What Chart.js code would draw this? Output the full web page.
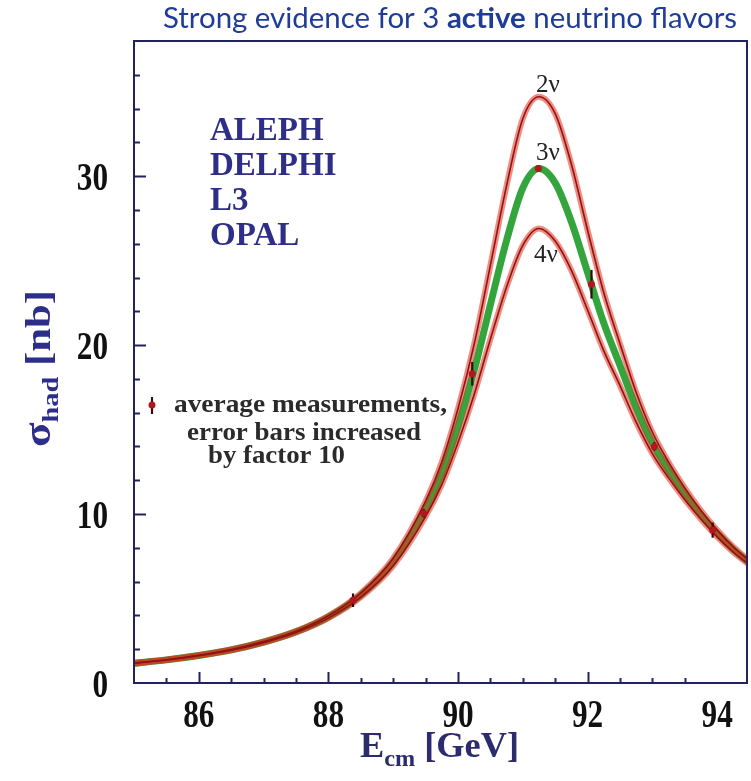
<!DOCTYPE html>
<html>
<head>
<meta charset="utf-8">
<script src="https://cdn.jsdelivr.net/npm/chart.js@4.4.1/dist/chart.umd.min.js"></script>
<style>
  html, body { margin: 0; padding: 0; background: #fff; }
  #wrap { width: 751px; height: 781px; }
</style>
</head>
<body>
<div id="wrap"><canvas id="zChart" width="751" height="781"></canvas></div>
<script>
// hadronic cross section around the Z pole, for 2, 3 and 4 light neutrino species
const energy = [85, 85.5, 86, 86.5, 87, 87.5, 88, 88.5, 89, 89.5, 89.75, 90, 90.25, 90.5, 90.75, 91, 91.25, 91.5, 91.75, 92, 92.25, 92.5, 92.75, 93, 93.25, 93.5, 93.75, 94, 94.25, 94.5];
const sigma2nu = [1.18, 1.38, 1.64, 1.98, 2.45, 3.07, 3.98, 5.32, 7.38, 10.76, 13.08, 16.23, 20.06, 24.72, 29.44, 33.4, 34.7, 33.7, 30.7, 26.8, 23.1, 20.08, 17.2, 14.84, 13.07, 11.55, 10.21, 9.05, 8.05, 7.22];
const sigma3nu = [1.17, 1.37, 1.63, 1.96, 2.42, 3.03, 3.91, 5.2, 7.16, 10.3, 12.4, 15.2, 18.5, 22.4, 26.2, 29.3, 30.45, 29.6, 27.3, 24.3, 21.3, 18.8, 16.3, 14.2, 12.6, 11.2, 9.95, 8.85, 7.9, 7.1];
const sigma4nu = [1.16, 1.36, 1.62, 1.94, 2.39, 2.99, 3.84, 5.08, 6.94, 9.85, 11.74, 14.23, 17.08, 20.35, 23.44, 25.9, 26.9, 26.16, 24.42, 22.08, 19.66, 17.6, 15.44, 13.58, 12.14, 10.85, 9.69, 8.65, 7.74, 6.98];

// averaged LEP measurements (errors already x10)
const measE = [88.38, 89.47, 90.22, 91.24, 92.06, 93.03, 93.93];
const measSigma = [4.9, 10.05, 18.3, 30.45, 23.6, 14.0, 9.05];
const measErr = [0.4, 0.25, 0.7, 0.2, 0.85, 0.25, 0.45];

const xTickLabels = [86, 88, 90, 92, 94];
const yTickLabels = [0, 10, 20, 30];
const experiments = ['ALEPH', 'DELPHI', 'L3', 'OPAL'];

const NAVY = '#22225e';
const SERIF = '"Liberation Serif", "DejaVu Serif", serif';

const pts = arr => energy.map((e, i) => ({ x: e, y: arr[i] }));

function drawText(ctx, str, x, y, font, color, align, sx) {
    sx = sx || 1;
    ctx.save();
    ctx.font = font;
    ctx.fillStyle = color;
    ctx.textBaseline = 'alphabetic';
    const w = ctx.measureText(str).width * sx;
    let left = x;
    if (align === 'center') left = x - w / 2;
    else if (align === 'right') left = x - w;
    ctx.translate(left, y);
    ctx.scale(sx, 1);
    ctx.fillText(str, 0, 0);
    ctx.restore();
}

// draw a list of [text, font, dy] runs squeezed/stretched to a given width
function drawRuns(ctx, runs, x, y, width, color) {
    ctx.save();
    ctx.fillStyle = color;
    let total = 0;
    runs.forEach(r => { ctx.font = r[1]; total += ctx.measureText(r[0]).width; });
    const sx = width / total;
    ctx.translate(x, y);
    ctx.scale(sx, 1);
    let cx = 0;
    runs.forEach(r => {
        ctx.font = r[1];
        ctx.fillText(r[0], cx, r[2] || 0);
        cx += ctx.measureText(r[0]).width;
    });
    ctx.restore();
}

const isStep = (v, step) => Math.abs(v / step - Math.round(v / step)) < 1e-6;

const zPlot = {
    id: 'zPlot',
    beforeDatasetDraw(chart, args) {
        if (args.index !== 0) return;
        const ctx = chart.ctx;
        const xs = chart.scales.x, ys = chart.scales.y;
        ctx.save();
        ctx.strokeStyle = '#3a0a0a';
        ctx.lineWidth = 2.2;
        measE.forEach((e, i) => {
            const px = xs.getPixelForValue(e);
            ctx.beginPath();
            ctx.moveTo(px, ys.getPixelForValue(measSigma[i] - measErr[i]));
            ctx.lineTo(px, ys.getPixelForValue(measSigma[i] + measErr[i]));
            ctx.stroke();
        });
        ctx.restore();
    },
    afterDatasetsDraw(chart) {
        const ctx = chart.ctx;
        const a = chart.chartArea;
        const xs = chart.scales.x, ys = chart.scales.y;
        ctx.save();
        ctx.strokeStyle = NAVY;
        ctx.lineWidth = 2;
        ctx.strokeRect(a.left, a.top, a.right - a.left, a.bottom - a.top);

        // inward ticks
        ctx.lineWidth = 2;
        xs.ticks.forEach(t => {
            if (!isStep(t.value, 0.5) || t.value <= xs.min || t.value >= xs.max) return;
            const px = Math.round(xs.getPixelForValue(t.value)) + 0.5;
            const len = xTickLabels.includes(t.value) ? 11 : 5;
            ctx.beginPath();
            ctx.moveTo(px, a.bottom);
            ctx.lineTo(px, a.bottom - len);
            ctx.stroke();
        });
        ys.ticks.forEach(t => {
            if (t.value <= ys.min || t.value >= ys.max) return;
            const py = Math.round(ys.getPixelForValue(t.value)) + 0.5;
            const len = yTickLabels.includes(t.value) ? 12 : 6;
            ctx.beginPath();
            ctx.moveTo(a.left, py);
            ctx.lineTo(a.left + len, py);
            ctx.stroke();
        });
        ctx.restore();

        // tick labels
        const tickFont = 'bold 40px ' + SERIF;
        xTickLabels.forEach(v => {
            drawText(ctx, String(v), xs.getPixelForValue(v), a.bottom + 44, tickFont, '#111', 'center', 0.78);
        });
        yTickLabels.forEach(v => {
            drawText(ctx, String(v), a.left - 26, ys.getPixelForValue(v) + 14, tickFont, '#111', 'right', 0.78);
        });

        // axis titles
        drawRuns(ctx, [
            ['E', 'bold 36px ' + SERIF, 0],
            ['cm', 'bold 24px ' + SERIF, 9],
            [' [GeV]', 'bold 36px ' + SERIF, 0]
        ], 360, 757, 159, '#2b2b6e');

        ctx.save();
        ctx.translate(50, 447);
        ctx.rotate(-Math.PI / 2);
        drawRuns(ctx, [
            ['σ', 'bold 38px ' + SERIF, 0],
            ['had', 'bold 24px ' + SERIF, 8],
            [' [nb]', 'bold 36px ' + SERIF, 0]
        ], 0, 0, 157, '#2d2d8a');
        ctx.restore();

        // experiment names
        experiments.forEach((name, i) => {
            drawText(ctx, name, 210, 140 + i * 35, 'bold 33px ' + SERIF, '#2e2e88', 'left');
        });

        // legend for the measurements
        ctx.save();
        ctx.strokeStyle = '#3a0a0a';
        ctx.lineWidth = 2.2;
        ctx.beginPath();
        ctx.moveTo(152, 397);
        ctx.lineTo(152, 414);
        ctx.stroke();
        ctx.fillStyle = '#b3161f';
        ctx.beginPath();
        ctx.arc(152, 405, 3.5, 0, Math.PI * 2);
        ctx.fill();
        ctx.restore();
        const legFont = 'bold 26px ' + SERIF;
        drawRuns(ctx, [['average measurements,', legFont]], 174, 412, 273, '#2a2a2a');
        drawRuns(ctx, [['error bars increased', legFont]], 187, 440, 234, '#2a2a2a');
        drawRuns(ctx, [['by factor 10', legFont]], 208, 463, 137, '#2a2a2a');

        // curve labels
        const nuFont = '25px ' + SERIF;
        drawText(ctx, '2ν', 548, 92, nuFont, '#222', 'center');
        drawText(ctx, '3ν', 548, 160, nuFont, '#222', 'center');
        drawText(ctx, '4ν', 546, 262, nuFont, '#222', 'center');

        // slide heading
        drawRuns(ctx, [
            ['Strong evidence for 3 ', '28px Lato', 0],
            ['active', 'bold 28px Lato', 0],
            [' neutrino flavors', '28px Lato', 0]
        ], 163, 28, 574, '#1f3c96');
    }
};

const lineStyle = { pointRadius: 0, cubicInterpolationMode: 'monotone', fill: false };

new Chart(document.getElementById('zChart').getContext('2d'), {
    type: 'line',
    data: {
        datasets: [
            {
                label: 'measurements',
                type: 'scatter',
                data: measE.map((e, i) => ({ x: e, y: measSigma[i] })),
                pointRadius: 3.5,
                pointBackgroundColor: '#b3161f',
                pointBorderWidth: 0,
                showLine: false
            },
            { label: '2ν', data: pts(sigma2nu), borderColor: '#8e1414', borderWidth: 1.6, ...lineStyle },
            { label: '4ν', data: pts(sigma4nu), borderColor: '#8e1414', borderWidth: 1.6, ...lineStyle },
            { label: '2ν glow', data: pts(sigma2nu), borderColor: 'rgba(228, 48, 30, 0.55)', borderWidth: 6, ...lineStyle },
            { label: '4ν glow', data: pts(sigma4nu), borderColor: 'rgba(228, 48, 30, 0.55)', borderWidth: 6, ...lineStyle },
            { label: '3ν', data: pts(sigma3nu), borderColor: '#33a53c', borderWidth: 7, ...lineStyle }
        ]
    },
    options: {
        responsive: false,
        animation: false,
        devicePixelRatio: 1,
        layout: { padding: { top: 41, right: 4, left: 0, bottom: 0 } },
        scales: {
            x: {
                type: 'linear',
                min: 85,
                max: 94.46,
                ticks: { stepSize: 0.5, display: false },
                grid: { display: false },
                border: { display: false },
                afterFit(scale) { scale.height = 98; }
            },
            y: {
                min: 0,
                max: 38,
                ticks: { stepSize: 2, display: false },
                grid: { display: false },
                border: { display: false },
                afterFit(scale) { scale.width = 134; }
            }
        },
        plugins: {
            legend: { display: false },
            tooltip: { enabled: false }
        }
    },
    plugins: [zPlot]
});
</script>
</body>
</html>
